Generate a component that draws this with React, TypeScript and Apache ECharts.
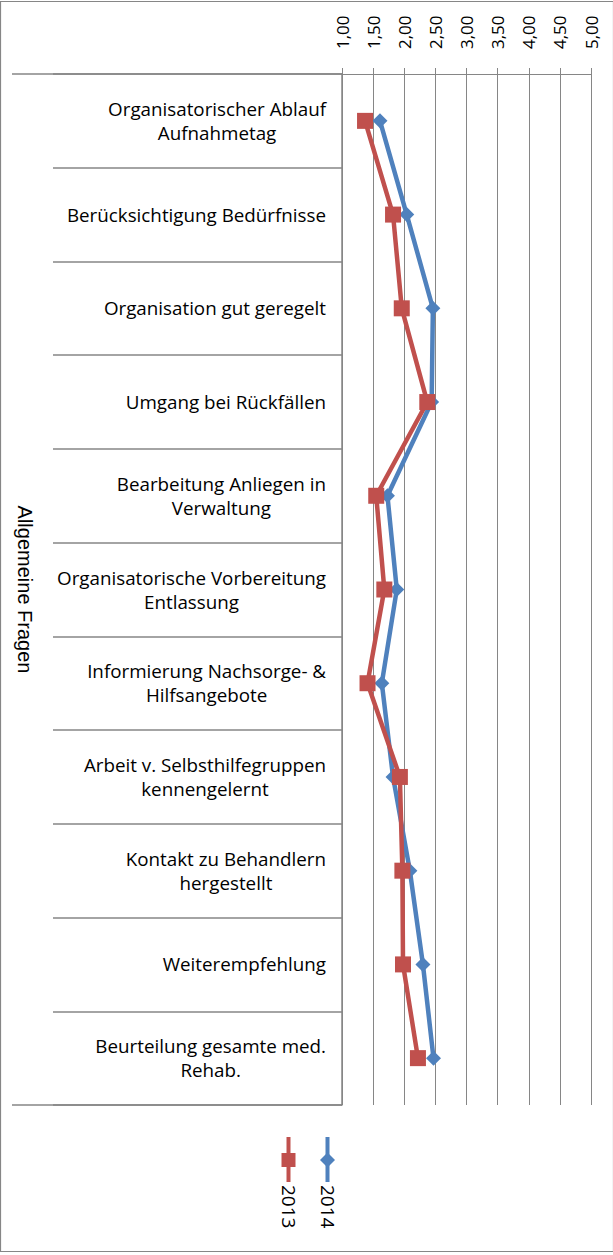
import React, { useEffect, useRef } from "react";
import * as echarts from "echarts";

const categories: string[] = [
  "Organisatorischer Ablauf\nAufnahmetag",
  "Berücksichtigung Bedürfnisse",
  "Organisation gut geregelt",
  "Umgang bei Rückfällen",
  "Bearbeitung Anliegen in\nVerwaltung",
  "Organisatorische Vorbereitung\nEntlassung",
  "Informierung Nachsorge- &\nHilfsangebote",
  "Arbeit v. Selbsthilfegruppen\nkennengelernt",
  "Kontakt zu Behandlern\nhergestellt",
  "Weiterempfehlung",
  "Beurteilung gesamte med.\nRehab.",
];

const values2014: number[] = [1.61, 2.04, 2.46, 2.44, 1.73, 1.88, 1.64, 1.82, 2.09, 2.3, 2.47];
const values2013: number[] = [1.37, 1.82, 1.96, 2.37, 1.55, 1.68, 1.41, 1.93, 1.97, 1.98, 2.22];

const groupCategories: string[] = ["Allgemeine Fragen"];
const seriesNames = ["2014", "2013"];
const valueMin = 1;
const valueMax = 5;
const valueStep = 0.5;

const BLUE = "#4F81BD";
const RED = "#C0504D";
const GRAY = "#868686";

export default function App() {
  const ref = useRef<HTMLDivElement>(null);

  useEffect(() => {
    if (!ref.current) return;
    const chart = echarts.init(ref.current, undefined, { renderer: "svg" });
    const option: any = {
      animation: false,
      backgroundColor: "#ffffff",
      grid: {
        left: 342,
        right: 22,
        top: 74,
        bottom: 150,
        containLabel: false,
        outerBoundsMode: "none",
      },
      xAxis: {
        type: "value",
        position: "top",
        min: valueMin,
        max: valueMax,
        interval: valueStep,
        axisLine: { show: true, lineStyle: { color: GRAY, width: 1 } },
        axisTick: { show: true, length: 6, lineStyle: { color: GRAY, width: 1 } },
        splitLine: { show: true, lineStyle: { color: GRAY, width: 1 } },
        axisLabel: {
          rotate: -90,
          margin: 25,
          color: "#000",
          fontFamily: "Open Sans",
          fontSize: 17,
          formatter: (v: number) => v.toFixed(2).replace(".", ","),
        },
      },
      yAxis: [
        {
          type: "category",
          inverse: true,
          data: categories,
          boundaryGap: true,
          axisLine: { show: true, lineStyle: { color: GRAY, width: 1.5 } },
          axisTick: { show: true, length: 289, lineStyle: { color: GRAY, width: 1.5 } },
          splitLine: { show: false },
          axisLabel: {
            margin: 16,
            color: "#000",
            fontFamily: "Open Sans",
            fontSize: 18.8,
            lineHeight: 24,
            formatter: (v: string) =>
              v
                .split("\n")
                .map((l) => `{c|${l}}`)
                .join("\n"),
            rich: {
              c: {
                align: "center",
                fontFamily: "Open Sans",
                fontSize: 18.8,
                lineHeight: 24,
                color: "#000",
              },
            },
          },
          name: groupCategories[0],
          nameLocation: "middle",
          nameRotate: -90,
          nameGap: 307,
          nameTextStyle: {
            color: "#000",
            fontFamily: "Liberation Sans",
            fontSize: 20,
          },
        },
        {
          type: "category",
          position: "left",
          data: groupCategories,
          boundaryGap: true,
          axisLine: { show: false },
          axisTick: { show: true, length: 330, lineStyle: { color: GRAY, width: 1.5 } },
          axisLabel: { show: false },
          splitLine: { show: false },
        },
      ],
      series: [
        {
          name: seriesNames[0],
          type: "line",
          yAxisIndex: 0,
          data: values2014,
          symbol: "diamond",
          symbolSize: 15,
          lineStyle: { color: BLUE, width: 4.5, join: "round" },
          itemStyle: { color: BLUE },
        },
        {
          name: seriesNames[1],
          type: "line",
          yAxisIndex: 0,
          data: values2013,
          symbol: "rect",
          symbolSize: 16,
          lineStyle: { color: RED, width: 4.5, join: "round" },
          itemStyle: { color: RED },
        },
      ],
      graphic: [
        {
          type: "rect",
          silent: true,
          shape: { x: 0.5, y: 1.5, width: 613, height: 1250 },
          style: { fill: "none", stroke: GRAY, lineWidth: 1.2 },
        },
        // legend 2014
        {
          type: "line",
          shape: { x1: 327.5, y1: 1137, x2: 327.5, y2: 1182 },
          style: { stroke: BLUE, lineWidth: 4 },
        },
        {
          type: "polygon",
          shape: {
            points: [
              [327.5, 1152.5],
              [335, 1160],
              [327.5, 1167.5],
              [320, 1160],
            ],
          },
          style: { fill: BLUE },
        },
        {
          type: "text",
          x: 327.5,
          y: 1185,
          rotation: -Math.PI / 2,
          style: {
            text: seriesNames[0],
            fill: "#000",
            font: "19px 'Open Sans'",
            align: "left",
            verticalAlign: "middle",
          },
        },
        // legend 2013
        {
          type: "line",
          shape: { x1: 288.5, y1: 1137, x2: 288.5, y2: 1182 },
          style: { stroke: RED, lineWidth: 4 },
        },
        {
          type: "rect",
          shape: { x: 281.5, y: 1153, width: 14, height: 14 },
          style: { fill: RED },
        },
        {
          type: "text",
          x: 288.5,
          y: 1185,
          rotation: -Math.PI / 2,
          style: {
            text: seriesNames[1],
            fill: "#000",
            font: "19px 'Open Sans'",
            align: "left",
            verticalAlign: "middle",
          },
        },
      ],
    };
    chart.setOption(option);
    return () => chart.dispose();
  }, []);

  return (
    <div
      ref={ref}
      style={{ position: "absolute", left: 0, top: 0, width: 613, height: 1255 }}
    />
  );
}
